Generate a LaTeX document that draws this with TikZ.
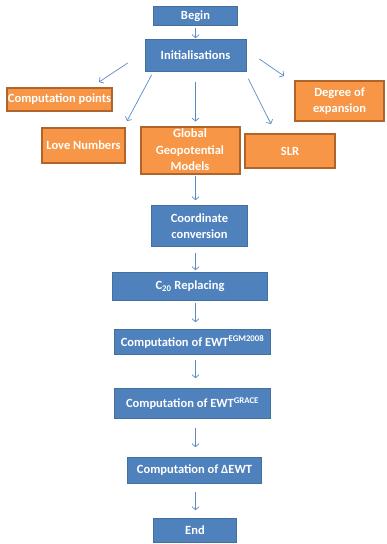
\documentclass[tikz,border=0pt]{standalone}
\usepackage{fontspec}
\setmainfont{Carlito}
\usetikzlibrary{arrows.meta}

\definecolor{boxblue}{HTML}{4F81BD}
\definecolor{boxblueline}{HTML}{41719C}
\definecolor{boxorange}{HTML}{F79646}
\definecolor{boxorangeline}{HTML}{B0642A}
\definecolor{arrowblue}{HTML}{5A8AC6}

\tikzset{
	bluebox/.style={fill=boxblue, draw=boxblueline, line width=0.6pt, text=white,
		font=\bfseries\fontsize{12.5}{16.5}\selectfont, align=center, inner sep=0pt},
	orangebox/.style={fill=boxorange, draw=boxorangeline, line width=2pt, text=white,
		font=\bfseries\fontsize{12.5}{16.5}\selectfont, align=center, inner sep=0pt},
	flow/.style={draw=arrowblue, line width=0.7pt, -{Straight Barb[length=3pt,width=7pt]}}
}

\begin{document}
\begin{tikzpicture}[x=1pt,y=-1pt]

	\useasboundingbox (0,0) rectangle (386,544);
	\coordinate (axis) at (195.5,0);

	% main column
	\node[bluebox, minimum width=84pt, minimum height=19pt] (begin) at (195.5,16) {Begin};
	\node[bluebox, minimum width=101pt, minimum height=32pt] (init) at (195.5,55.5) {Initialisations};

	% input data
	\node[orangebox, minimum width=105pt, minimum height=23pt] (comppts) at (59.5,99.5) {Computation points};
	\node[orangebox, minimum width=89pt, minimum height=40pt] (degree) at (339.5,101) {Degree of\\expansion};
	\node[orangebox, minimum width=83pt, minimum height=35pt] (love) at (83.5,145.5) {Love Numbers};
	\node[orangebox, minimum width=99pt, minimum height=47pt] (ggm) at (190,150) {Global\\Geopotential\\Models};
	\node[orangebox, minimum width=90pt, minimum height=34pt] (slr) at (290,151) {SLR};

	\node[bluebox, minimum width=96pt, minimum height=41pt] (coord) at (199.5,226) {Coordinate\\conversion};
	\node[bluebox, minimum width=155pt, minimum height=28pt] (c20) at (190,286.5) {C\textsubscript{20} Replacing};
	\node[bluebox, minimum width=156pt, minimum height=25pt] (egm) at (192.5,342) {Computation of EWT\textsuperscript{EGM2008}};
	\node[bluebox, minimum width=156pt, minimum height=30pt] (grace) at (192.5,403.5) {Computation of EWT\textsuperscript{GRACE}};
	\node[bluebox, minimum width=134pt, minimum height=26pt] (dewt) at (194.5,470.5) {Computation of ΔEWT};
	\node[bluebox, minimum width=83pt, minimum height=24pt] (end) at (195,530.5) {End};

	% arrows out of the initialisations
	\draw[flow] ([shift={(-17,7.5)}]init.west) -- ([shift={(-14,-5)}]comppts.north east);
	\draw[flow] ([shift={(7,3)}]init.south west) -- ([shift={(1,-6)}]love.north east);
	\draw[flow] ([shift={(13,3.5)}]init.east) -- ([shift={(-10,-4)}]degree.north west);
	\draw[flow] ([shift={(2,7)}]init.south east) -- ([shift={(-19,-9)}]slr.north);

	% vertical arrows
	\draw[flow, shorten <=2pt, shorten >=1pt] (begin.south -| axis) -- (init.north -| axis);
	\draw[flow, shorten <=10pt, shorten >=4pt] (init.south -| axis) -- (ggm.north -| axis);
	\draw[flow, shorten <=1pt, shorten >=5pt] (ggm.south -| axis) -- (coord.north -| axis);
	\draw[flow, shorten <=6pt, shorten >=2pt] (coord.south -| axis) -- (c20.north -| axis);
	\draw[flow, shorten <=2pt, shorten >=7pt] (c20.south -| axis) -- (egm.north -| axis);
	\draw[flow, shorten <=5pt, shorten >=10pt] (egm.south -| axis) -- (grace.north -| axis);
	\draw[flow, shorten <=9pt, shorten >=10pt] (grace.south -| axis) -- (dewt.north -| axis);
	\draw[flow, shorten <=8pt, shorten >=8pt] (dewt.south -| axis) -- (end.north -| axis);

\end{tikzpicture}
\end{document}
